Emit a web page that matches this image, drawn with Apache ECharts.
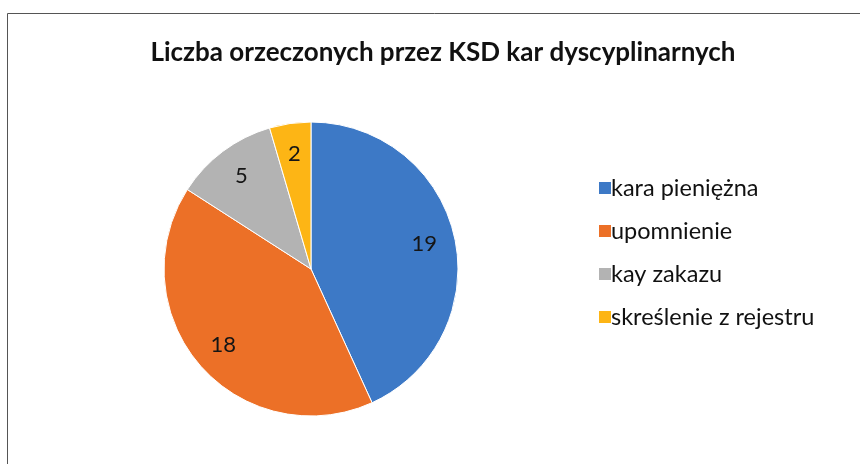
<!DOCTYPE html>
<html>
<head>
<meta charset="UTF-8">
<title>Liczba orzeczonych przez KSD kar dyscyplinarnych</title>
<script type="text/javascript" src="https://cdn.jsdelivr.net/npm/echarts@6/dist/echarts.min.js"></script>
<style>
	body { margin: 0; background: #fff; }
</style>
</head>
<body>
	<div id="div" style="width:860px;height:464px"></div>

	<script type="text/javascript">
		var categories = [ 'kara pieniężna', 'upomnienie', 'kay zakazu', 'skreślenie z rejestru' ];
		var counts = [ 19, 18, 5, 2 ];
		var colors = [ '#3d79c6', '#ec7027', '#b3b3b3', '#fdb515' ];

		var pieData = [];
		for (var i = 0; i < categories.length; i++) {
			pieData.push({ name : categories[i], value : counts[i], itemStyle : { color : colors[i] } });
		}
		// same slices, transparent, only to place the numbers further out
		var labelData = [];
		for (var j = 0; j < categories.length; j++) {
			labelData.push({ name : categories[j], value : counts[j] });
		}

		var mychart = echarts.init(document.getElementById('div'));
		var option = {
			animation : false,
			title : {
				text : 'Liczba orzeczonych przez KSD kar dyscyplinarnych',
				left : 438,
				textAlign : 'center',
				top : 35,
				textStyle : { fontFamily : 'Lato', fontSize : 26, fontWeight : 'bold', color : '#111' }
			},
			graphic : [ {
				type : 'polyline',
				shape : { points : [ [ 7.5, 470 ], [ 7.5, 13.5 ], [ 870, 13.5 ] ] },
				style : { stroke : '#555', lineWidth : 1, fill : null }
			} ],
			legend : {
				orient : 'vertical',
				left : 592,
				top : 170,
				itemWidth : 14,
				itemHeight : 14,
				itemGap : 17,
				icon : 'rect',
				data : categories,
				textStyle : { fontFamily : 'Lato', fontSize : 23.5, color : '#111', lineHeight : 26, padding : [ 0, 0, 0, -6 ] }
			},
			series : [ {
				name : 'kary',
				type : 'pie',
				center : [ 311, 269 ],
				radius : [ 0, 147 ],
				startAngle : 90,
				clockwise : true,
				data : pieData,
				itemStyle : { borderColor : '#fff', borderWidth : 1 },
				label : { show : false },
				labelLine : { show : false },
				silent : true
			}, {
				name : 'etykiety',
				type : 'pie',
				center : [ 311, 269 ],
				radius : [ 80, 146 ],
				startAngle : 90,
				clockwise : true,
				data : labelData,
				itemStyle : { color : 'rgba(0,0,0,0)', borderWidth : 0 },
				label : {
					show : true,
					position : 'inside',
					formatter : '{c}',
					fontFamily : 'Lato',
					fontSize : 22,
					color : '#151515'
				},
				labelLine : { show : false },
				silent : true
			} ]
		};
		mychart.setOption(option);
	</script>
</body>
</html>
